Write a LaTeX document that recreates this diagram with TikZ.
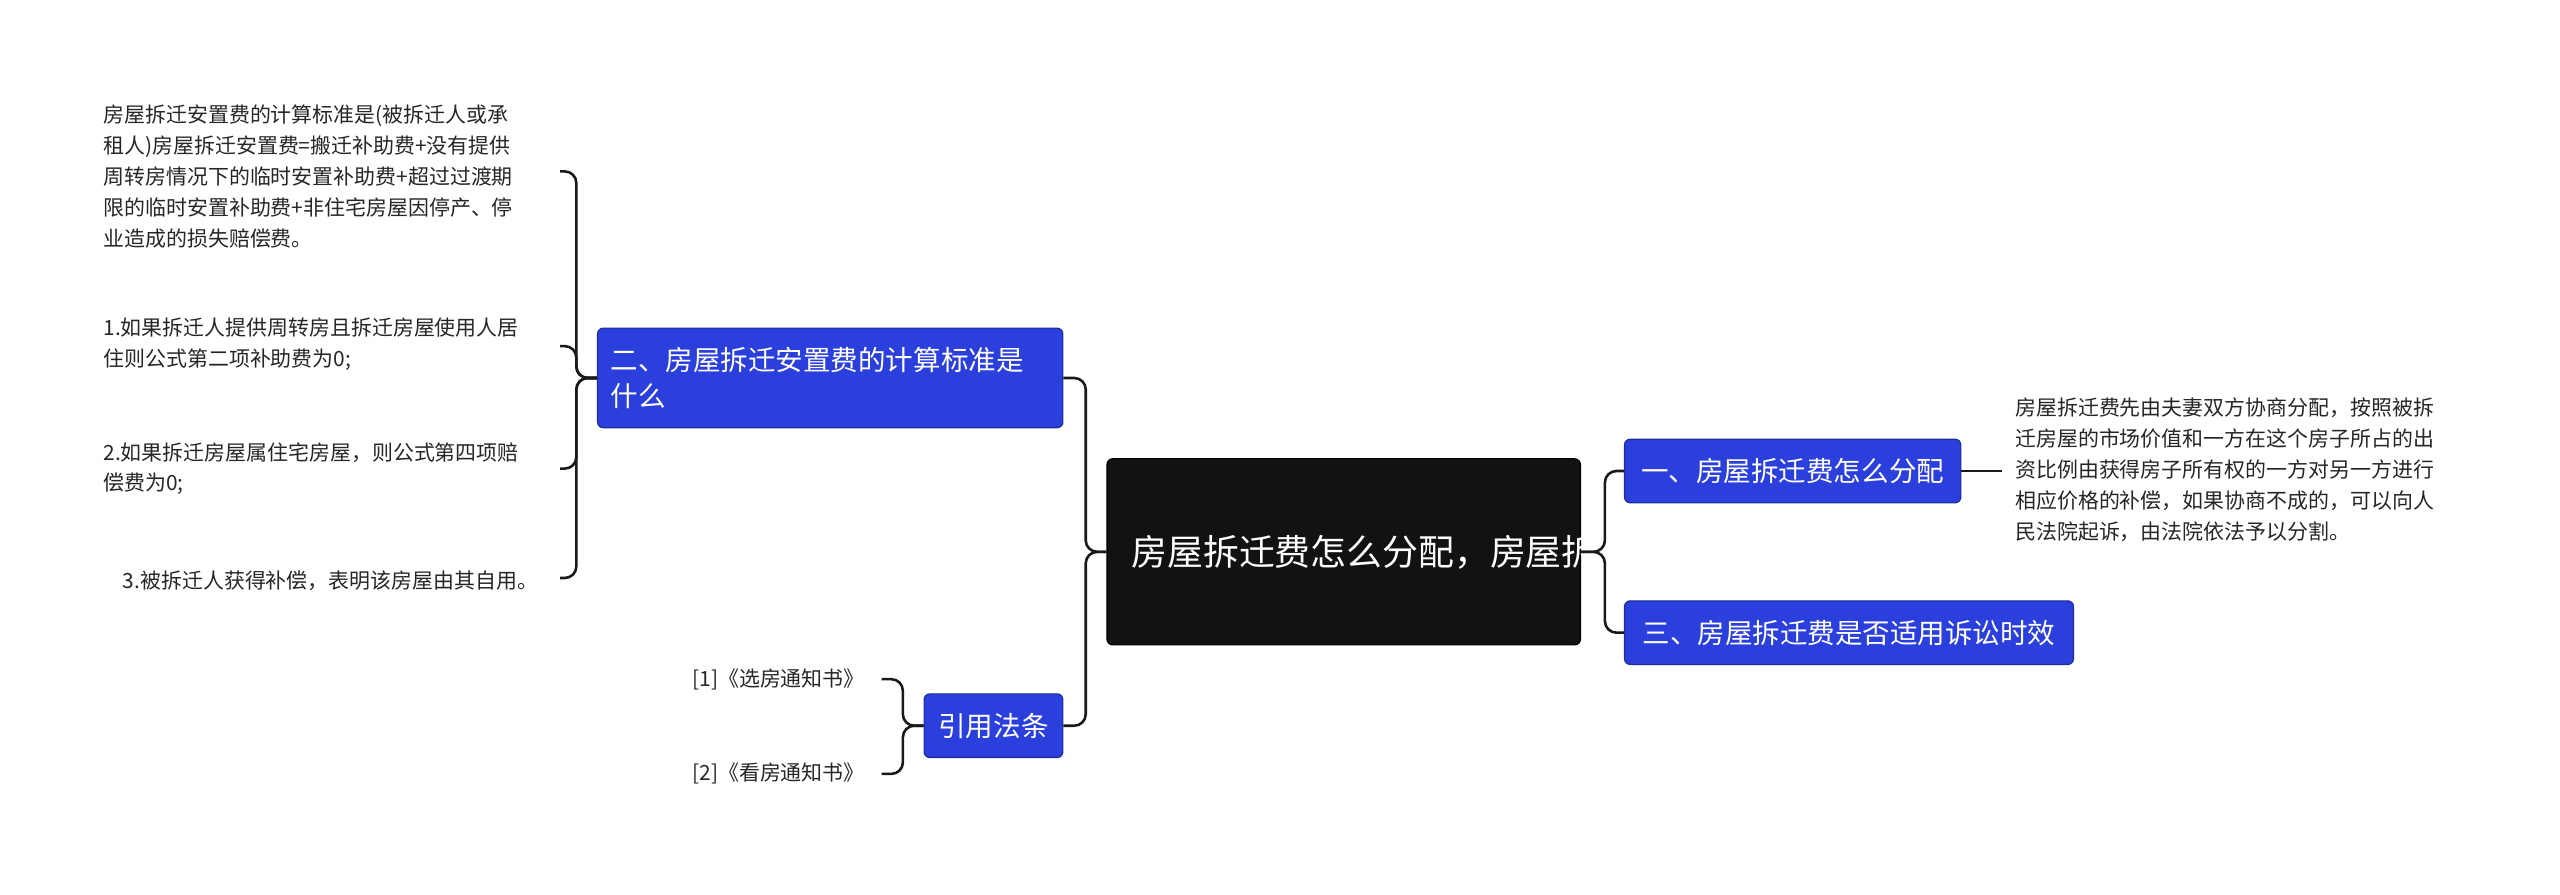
\documentclass[tikz,border=0pt]{standalone}
\usepackage{fontspec}
\setmainfont{Noto Sans CJK SC}
\begin{document}
\begin{tikzpicture}[x=0.02cm,y=-0.02cm,
  blue/.style={fill=myblue,draw=myblue!70!black,rounded corners=2pt,text=white,font=\fontsize{9.6pt}{12.5pt}\selectfont,inner sep=0pt},
  leaf/.style={font=\fontsize{7.3pt}{10.8pt}\selectfont,align=left,inner sep=0pt,text=black!85},
  conn/.style={draw=black!90,line width=0.9pt,rounded corners=4pt}]
\definecolor{myblue}{HTML}{2A3FDB}
\useasboundingbox (0,0) rectangle (1568,548);
\node[fill=black!93,rounded corners=2pt,draw=black,minimum width=290*0.02cm,minimum height=114*0.02cm,text=white,align=center,font=\fontsize{12.5pt}{16.5pt}\selectfont,text width=260*0.02cm] (root) at (823,338) {房屋拆迁费怎么分配，房屋拆迁安置费的计算标准是什么};
\node[blue,minimum width=206*0.02cm,minimum height=39*0.02cm] (a) at (1098,288.5) {一、房屋拆迁费怎么分配};
\node[blue,minimum width=275*0.02cm,minimum height=39*0.02cm] (c) at (1132.5,387.5) {三、房屋拆迁费是否适用诉讼时效};
\node[blue,minimum width=285*0.02cm,minimum height=61*0.02cm,text width=269*0.02cm,align=left] (b) at (508.5,231.5) {二、房屋拆迁安置费的计算标准是\\什么};
\node[blue,minimum width=85*0.02cm,minimum height=39*0.02cm] (d) at (608.5,444.5) {引用法条};
\node[leaf,anchor=west] (ar) at (1234,288) {房屋拆迁费先由夫妻双方协商分配，按照被拆\\迁房屋的市场价值和一方在这个房子所占的出\\资比例由获得房子所有权的一方对另一方进行\\相应价格的补偿，如果协商不成的，可以向人\\民法院起诉，由法院依法予以分割。};
\node[leaf,anchor=west] (b1) at (63,108) {房屋拆迁安置费的计算标准是(被拆迁人或承\\租人)房屋拆迁安置费=搬迁补助费+没有提供\\周转房情况下的临时安置补助费+超过过渡期\\限的临时安置补助费+非住宅房屋因停产、停\\业造成的损失赔偿费。};
\node[leaf,anchor=west] (b2) at (63,211) {1.如果拆迁人提供周转房且拆迁房屋使用人居\\住则公式第二项补助费为0;};
\node[leaf,anchor=west] (b3) at (63,287) {2.如果拆迁房屋属住宅房屋，则公式第四项赔\\偿费为0;};
\node[leaf,anchor=east] (b4) at (330,356) {3.被拆迁人获得补偿，表明该房屋由其自用。};
\node[leaf,anchor=east] (d1) at (530,416) {[1]《选房通知书》};
\node[leaf,anchor=east] (d2) at (530,474) {[2]《看房通知书》};
\coordinate (rR) at (root.east); \coordinate (rL) at (root.west);
\draw[conn] (root.east) -- (983,338) |- (a.west);
\draw[conn] (root.east) -- (983,338) |- (c.west);
\draw[conn] (root.west) -- (665,338) |- (b.east);
\draw[conn] (root.west) -- (665,338) |- (d.east);
\draw[conn] (a.east) -- (1226,288.5);
\coordinate (e1) at (343,105); \coordinate (e2) at (343,212); \coordinate (e3) at (343,287); \coordinate (e4) at (343,354);
\foreach \e in {e1,e2,e3,e4} \draw[conn] (b.west) -- (353,231.5) |- (\e);
\coordinate (f1) at (540,416); \coordinate (f2) at (540,474);
\foreach \e in {f1,f2} \draw[conn] (d.west) -- (553,444.5) |- (\e);
\end{tikzpicture}
\end{document}
